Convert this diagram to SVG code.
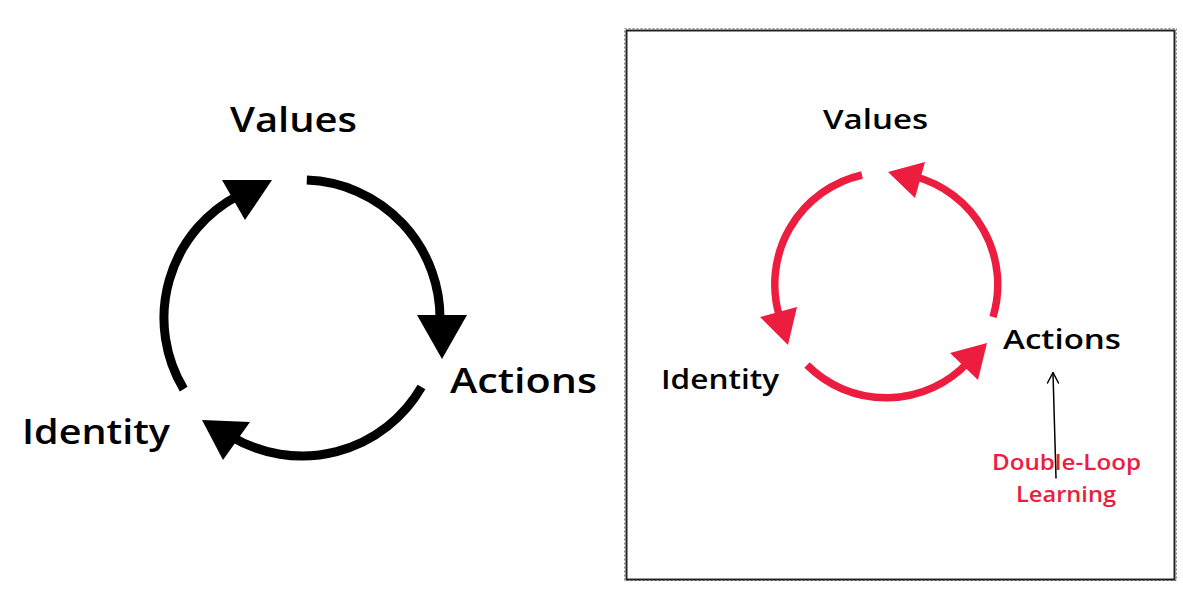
<svg xmlns="http://www.w3.org/2000/svg" width="1183" height="606" viewBox="0 0 1183 606">
  <style>
    .lbl { font-family: "Open Sans", "Liberation Sans", sans-serif; font-weight: 600; fill: #000; }
    .big { font-size: 34px; }
    .mid { font-size: 27px; }
    .red-lbl { font-family: "Open Sans", "Liberation Sans", sans-serif; font-weight: 600; font-size: 21px; fill: #EC1D3F; }
    .blk-arc { fill: none; stroke: #000; stroke-width: 9; }
    .blk-head { fill: #000; }
    .red-arc { fill: none; stroke: #EC1D3F; stroke-width: 7.5; }
    .red-head { fill: #EC1D3F; }
    .thin { fill: none; stroke: #000; stroke-width: 1.5; stroke-linecap: round; stroke-linejoin: round; }
  </style>
  <rect width="1183" height="606" fill="#fff"/>

  <!-- frame of right panel -->
  <g id="frame">
    <rect x="624.5" y="28.5" width="552" height="552" fill="none" stroke="#888" stroke-width="1" stroke-dasharray="2,2"/>
    <rect x="626.5" y="30.5" width="548" height="549" fill="none" stroke="#222" stroke-width="2"/>
  </g>

  <!-- left cycle nodes -->
  <g id="left-values"><text class="lbl big" x="230" y="132" textLength="127" lengthAdjust="spacingAndGlyphs">Values</text></g>
  <g id="left-actions"><text class="lbl big" x="450" y="393" textLength="147" lengthAdjust="spacingAndGlyphs">Actions</text></g>
  <g id="left-identity"><text class="lbl big" x="22" y="444" textLength="148" lengthAdjust="spacingAndGlyphs">Identity</text></g>

  <!-- right cycle nodes -->
  <g id="right-values"><text class="lbl mid" x="823" y="129" textLength="105" lengthAdjust="spacingAndGlyphs">Values</text></g>
  <g id="right-actions"><text class="lbl mid" x="1003" y="349" textLength="118" lengthAdjust="spacingAndGlyphs">Actions</text></g>
  <g id="right-identity"><text class="lbl mid" x="661" y="389" textLength="118" lengthAdjust="spacingAndGlyphs">Identity</text></g>
  <g id="double-loop">
    <text class="red-lbl" x="992" y="470" textLength="149" lengthAdjust="spacingAndGlyphs">Double-Loop</text>
    <text class="red-lbl" x="1016" y="502" textLength="100" lengthAdjust="spacingAndGlyphs">Learning</text>
  </g>

  <g id="connectors">
    <!-- left black cycle (clockwise) -->
    <path class="blk-arc" d="M306.8,180.1 A138,138 0 0 1 439.9,322.8"/>
    <polygon class="blk-head" points="417,315 467,315 442,359"/>
    <path class="blk-arc" d="M421.5,387 A138,138 0 0 1 230.9,436.3"/>
    <polygon class="blk-head" points="202,420 250,422 223,460"/>
    <path class="blk-arc" d="M183.7,389.1 A138,138 0 0 1 239.3,195"/>
    <polygon class="blk-head" points="222,180 272,180 245,220"/>

    <!-- right red cycle (counter-clockwise) -->
    <path class="red-arc" d="M862,175 A112,112 0 0 0 779.9,317.7"/>
    <polygon class="red-head" points="760,317 797,307 788,345"/>
    <path class="red-arc" d="M807,365 A112,112 0 0 0 968.1,362.2"/>
    <polygon class="red-head" points="950,353 987,343 978,380"/>
    <path class="red-arc" d="M993,317 A112,112 0 0 0 914.8,176.5"/>
    <polygon class="red-head" points="888,172 925,162 915,198"/>

    <!-- small pointer to Actions -->
    <path class="thin" d="M1056,478 L1053,373"/>
    <path class="thin" d="M1047.5,383 L1053,372.5 L1058.5,383"/>
  </g>
</svg>
